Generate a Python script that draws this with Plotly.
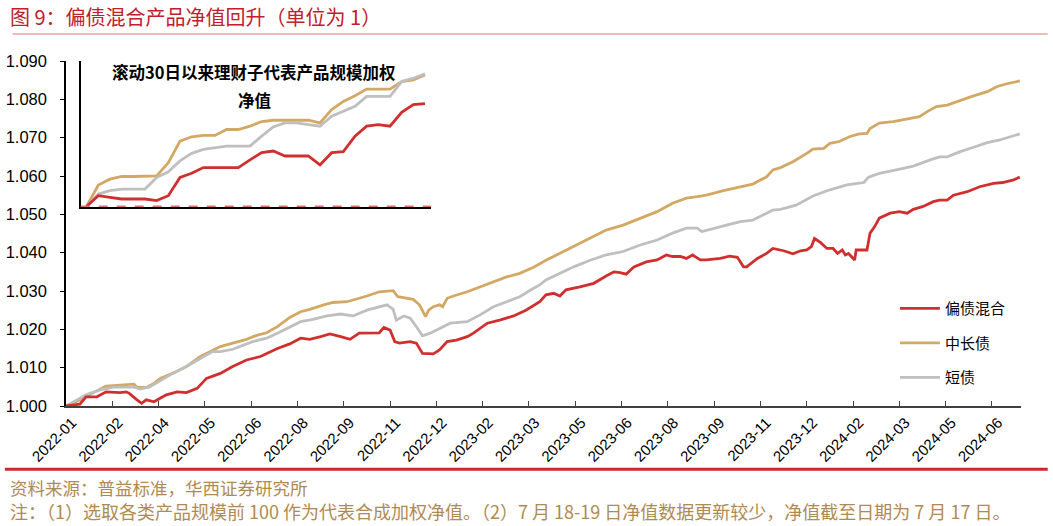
import plotly.graph_objects as go

# ---------------- data ----------------
# x-axis: trading-day index since 2022-01-04; one label every 30 trading days
tick_days = list(range(0, 601, 30))
tick_labels = ["2022-01", "2022-02", "2022-04", "2022-05", "2022-06", "2022-08",
               "2022-09", "2022-11", "2022-12", "2023-02", "2023-03", "2023-05",
               "2023-06", "2023-08", "2023-09", "2023-11", "2023-12", "2024-02",
               "2024-03", "2024-05", "2024-06"]

# 偏债混合
hybrid_days = [0, 9, 13, 20, 26, 35, 39, 41, 46, 49, 52, 57, 61, 65, 72, 78, 85, 91, 100, 108,
               117, 126, 137, 145, 152, 158, 165, 171, 178, 184, 190, 203, 206, 210, 213, 216,
               223, 227, 231, 238, 242, 247, 253, 260, 264, 273, 281, 290, 298, 307, 311, 316,
               320, 324, 333, 342, 350, 355, 359, 363, 368, 372, 376, 383, 389, 393, 398, 402,
               406, 411, 415, 424, 430, 435, 439, 441, 448, 454, 458, 465, 471, 476, 480, 483,
               485, 489, 493, 497, 500, 503, 505, 507, 511, 512, 519, 521, 524, 527, 534, 540,
               545, 549, 555, 562, 566, 571, 575, 584, 592, 601, 607, 614, 618]
hybrid_nav = [1.0000, 1.0005, 1.0024, 1.0024, 1.0037, 1.0035, 1.0037, 1.0033, 1.0016, 1.0007,
              1.0016, 1.0011, 1.0020, 1.0029, 1.0037, 1.0035, 1.0046, 1.0072, 1.0085, 1.0103,
              1.0120, 1.0129, 1.0150, 1.0162, 1.0177, 1.0174, 1.0181, 1.0188, 1.0181, 1.0174,
              1.0190, 1.0191, 1.0205, 1.0198, 1.0168, 1.0164, 1.0168, 1.0164, 1.0137, 1.0136,
              1.0146, 1.0168, 1.0172, 1.0181, 1.0190, 1.0216, 1.0224, 1.0235, 1.0250, 1.0272,
              1.0290, 1.0294, 1.0287, 1.0303, 1.0311, 1.0320, 1.0339, 1.0350, 1.0348, 1.0344,
              1.0363, 1.0370, 1.0376, 1.0381, 1.0394, 1.0390, 1.0390, 1.0385, 1.0394, 1.0381,
              1.0381, 1.0385, 1.0391, 1.0388, 1.0363, 1.0363, 1.0385, 1.0398, 1.0411, 1.0405,
              1.0397, 1.0405, 1.0407, 1.0416, 1.0437, 1.0426, 1.0411, 1.0411, 1.0398, 1.0407,
              1.0394, 1.0398, 1.0381, 1.0407, 1.0407, 1.0451, 1.0468, 1.0490, 1.0503, 1.0507,
              1.0503, 1.0513, 1.0520, 1.0533, 1.0537, 1.0537, 1.0550, 1.0559, 1.0572, 1.0581,
              1.0583, 1.0590, 1.0597]

# 中长债
long_days = [0, 9, 15, 26, 44, 46, 52, 57, 61, 70, 78, 87, 91, 100, 108, 117, 124, 130, 137, 145,
             152, 158, 167, 173, 182, 188, 195, 203, 212, 215, 225, 229, 233, 235, 238, 242, 244,
             247, 251, 260, 268, 277, 285, 294, 303, 311, 318, 329, 340, 350, 361, 372, 383, 393,
             402, 409, 415, 426, 437, 445, 454, 458, 463, 471, 480, 484, 491, 495, 501, 508, 514,
             519, 521, 527, 536, 545, 553, 558, 564, 571, 579, 588, 597, 603, 609, 618]
long_nav = [1.0000, 1.0016, 1.0029, 1.0052, 1.0057, 1.0049, 1.0048, 1.0059, 1.0072, 1.0087,
            1.0103, 1.0129, 1.0137, 1.0155, 1.0164, 1.0174, 1.0185, 1.0191, 1.0207, 1.0231,
            1.0246, 1.0252, 1.0264, 1.0270, 1.0272, 1.0278, 1.0287, 1.0298, 1.0301, 1.0285,
            1.0278, 1.0264, 1.0233, 1.0250, 1.0259, 1.0264, 1.0259, 1.0281, 1.0287, 1.0298,
            1.0310, 1.0324, 1.0336, 1.0346, 1.0362, 1.0380, 1.0394, 1.0416, 1.0437, 1.0459,
            1.0472, 1.0490, 1.0507, 1.0529, 1.0542, 1.0546, 1.0550, 1.0562, 1.0572, 1.0579,
            1.0598, 1.0616, 1.0622, 1.0637, 1.0659, 1.0670, 1.0672, 1.0685, 1.0690, 1.0703,
            1.0710, 1.0711, 1.0724, 1.0738, 1.0742, 1.0748, 1.0755, 1.0768, 1.0781, 1.0785,
            1.0797, 1.0809, 1.0820, 1.0833, 1.0840, 1.0848]

# 短债
short_days = [0, 13, 22, 31, 44, 48, 54, 59, 70, 78, 87, 95, 100, 108, 121, 130, 137, 145, 152,
              160, 169, 178, 186, 195, 204, 208, 212, 214, 219, 223, 227, 231, 236, 242, 249, 260,
              268, 277, 285, 294, 303, 307, 311, 318, 329, 340, 350, 361, 372, 383, 393, 402, 409,
              412, 420, 428, 437, 445, 454, 458, 463, 473, 484, 495, 506, 517, 520, 527, 538, 549,
              560, 566, 571, 579, 588, 597, 605, 614, 618]
short_nav = [1.0000, 1.0029, 1.0042, 1.0049, 1.0049, 1.0044, 1.0049, 1.0061, 1.0087, 1.0103,
             1.0124, 1.0142, 1.0142, 1.0148, 1.0168, 1.0177, 1.0190, 1.0207, 1.0220, 1.0226,
             1.0235, 1.0240, 1.0235, 1.0250, 1.0259, 1.0264, 1.0252, 1.0224, 1.0235, 1.0229,
             1.0207, 1.0183, 1.0190, 1.0203, 1.0216, 1.0220, 1.0237, 1.0259, 1.0272, 1.0285,
             1.0307, 1.0316, 1.0329, 1.0342, 1.0363, 1.0381, 1.0394, 1.0403, 1.0420, 1.0433,
             1.0451, 1.0464, 1.0464, 1.0455, 1.0464, 1.0472, 1.0481, 1.0485, 1.0503, 1.0511,
             1.0513, 1.0524, 1.0548, 1.0564, 1.0577, 1.0583, 1.0597, 1.0607, 1.0616, 1.0626,
             1.0642, 1.0650, 1.0650, 1.0663, 1.0675, 1.0687, 1.0694, 1.0704, 1.0710]

# inset: rolling 30 days
inset_days = list(range(1, 31))
inset_hybrid = [1.00000, 1.00032, 1.00027, 1.00022, 1.00022, 1.00022, 1.00017, 1.00032, 1.00087, 1.00100,
                1.00117, 1.00117, 1.00117, 1.00117, 1.00140, 1.00162, 1.00167, 1.00152, 1.00152, 1.00152,
                1.00125, 1.00162, 1.00165, 1.00212, 1.00242, 1.00247, 1.00242, 1.00284, 1.00307, 1.00310]
inset_long = [1.00000, 1.00064, 1.00082, 1.00090, 1.00090, 1.00090, 1.00092, 1.00132, 1.00197, 1.00210,
              1.00214, 1.00214, 1.00232, 1.00232, 1.00242, 1.00256, 1.00260, 1.00260, 1.00260, 1.00260,
              1.00252, 1.00292, 1.00317, 1.00334, 1.00354, 1.00354, 1.00354, 1.00377, 1.00382, 1.00397]
inset_short = [1.00000, 1.00037, 1.00047, 1.00052, 1.00052, 1.00052, 1.00087, 1.00104, 1.00137, 1.00160,
               1.00172, 1.00177, 1.00182, 1.00182, 1.00182, 1.00212, 1.00240, 1.00252, 1.00252, 1.00247,
               1.00242, 1.00272, 1.00287, 1.00302, 1.00332, 1.00332, 1.00332, 1.00377, 1.00387, 1.00400]

# ---------------- style ----------------
RED = "#D02F2F"
GOLD = "#D3A864"
GRAY = "#BFBFBF"
LW = 2.8
FONT = "Liberation Sans, Arial, sans-serif"
CJK = "Noto Sans CJK SC, sans-serif"
FOOT = "#B08A50"

fig = go.Figure()

fig.add_trace(go.Scatter(x=long_days, y=long_nav, mode="lines", name="中长债",
                         line=dict(color=GOLD, width=LW), legendrank=2, legendgroup="b"))
fig.add_trace(go.Scatter(x=short_days, y=short_nav, mode="lines", name="短债",
                         line=dict(color=GRAY, width=LW), legendrank=3, legendgroup="c"))
fig.add_trace(go.Scatter(x=hybrid_days, y=hybrid_nav, mode="lines", name="偏债混合",
                         line=dict(color=RED, width=LW), legendrank=1, legendgroup="a"))

# inset
fig.add_trace(go.Scatter(x=inset_days, y=inset_long, mode="lines", xaxis="x2", yaxis="y2",
                         line=dict(color=GOLD, width=LW), showlegend=False))
fig.add_trace(go.Scatter(x=inset_days, y=inset_short, mode="lines", xaxis="x2", yaxis="y2",
                         line=dict(color=GRAY, width=LW), showlegend=False))
fig.add_trace(go.Scatter(x=inset_days, y=inset_hybrid, mode="lines", xaxis="x2", yaxis="y2",
                         line=dict(color=RED, width=LW), showlegend=False))

fig.update_layout(
    width=1053, height=526,
    margin=dict(l=66, r=32, t=61, b=120, autoexpand=False),
    paper_bgcolor="white", plot_bgcolor="rgba(0,0,0,0)",
    font=dict(family=FONT, color="#000000"),
    xaxis=dict(range=[0, 618.8], tickvals=tick_days, ticktext=tick_labels, tickangle=-45,
               automargin=False, ticklabelshift=6,
               showgrid=False, zeroline=False, showline=True, linecolor="#404040", linewidth=2,
               ticks="inside", ticklen=5, tickcolor="#404040", tickwidth=1,
               tickfont=dict(family=FONT, size=15, color="#000")),
    yaxis=dict(range=[1.000, 1.090], dtick=0.01, tickformat=".3f", automargin=False,
               showgrid=False, zeroline=False, showline=True, linecolor="#000", linewidth=1.5,
               ticks="outside", ticklen=4, tickcolor="#000", ticklabelstandoff=10,
               tickfont=dict(family=FONT, size=16.5, color="#000")),
    xaxis2=dict(domain=[0.0154, 0.3819], anchor="y2", range=[0.49, 30.49], automargin=False,
                showgrid=False, zeroline=False, showline=True, linecolor="#000", linewidth=1.5,
                showticklabels=False, ticks=""),
    yaxis2=dict(domain=[0.576, 1.0], anchor="x2", range=[0.99997, 1.00439], automargin=False,
                showgrid=False, zeroline=False, showline=True, linecolor="#000", linewidth=1.5,
                showticklabels=False, ticks=""),
    legend=dict(x=0.868, y=0.33, xanchor="left", yanchor="top",
                font=dict(family=CJK, size=15, color="#000"),
                tracegroupgap=12, itemwidth=40, bgcolor="rgba(0,0,0,0)"),
    showlegend=True,
)

# inset baseline dashed red
fig.add_shape(type="line", xref="x2 domain", yref="y2", x0=0, x1=1, y0=1.0, y1=1.0,
              line=dict(color="#E07070", width=1.5, dash="dash"))

# title, rules, footers
fig.add_shape(type="line", xref="paper", yref="paper", x0=-0.056, x1=1.028, y0=1.078, y1=1.078,
              line=dict(color="#EBA3A3", width=1.5))
fig.add_shape(type="line", xref="paper", yref="paper", x0=-0.064, x1=1.028, y0=-0.183, y1=-0.183,
              line=dict(color="#D0262D", width=3))

fig.add_annotation(text="图 9：偏债混合产品净值回升（单位为 1）", xref="paper", yref="paper",
                   x=-0.0607, y=1.1304, xanchor="left", yanchor="middle", showarrow=False,
                   font=dict(family=CJK, size=20, color="#C0202A"))
fig.add_annotation(text="<b>滚动30日以来理财子代表产品规模加权</b>", xref="paper", yref="paper",
                   x=0.1969, y=0.968, xanchor="center", yanchor="middle", showarrow=False,
                   font=dict(family=CJK, size=16.5, color="#000"))
fig.add_annotation(text="<b>净值</b>", xref="paper", yref="paper",
                   x=0.1969, y=0.888, xanchor="center", yanchor="middle", showarrow=False,
                   font=dict(family=CJK, size=16.5, color="#000"))
fig.add_annotation(text="资料来源：普益标准，华西证券研究所", xref="paper", yref="paper",
                   x=-0.0607, y=-0.2348, xanchor="left", yanchor="middle", showarrow=False,
                   font=dict(family=CJK, size=17.5, color=FOOT))
fig.add_annotation(text="注：（1）选取各类产品规模前 100 作为代表合成加权净值。（2）7 月 18-19 日净值数据更新较少，净值截至日期为 7 月 17 日。",
                   xref="paper", yref="paper",
                   x=-0.0607, y=-0.3043, xanchor="left", yanchor="middle", showarrow=False,
                   font=dict(family=CJK, size=18, color=FOOT))

fig.write_html("out.html")
